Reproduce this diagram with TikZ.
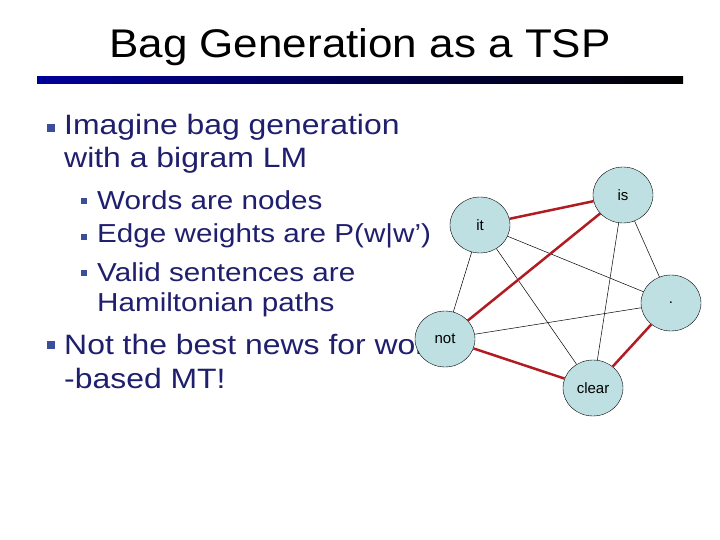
\documentclass[tikz,border=0pt]{standalone}
\usepackage{fontspec}
\setmainfont{Liberation Sans}
\usetikzlibrary{shapes.geometric}
\definecolor{navy}{HTML}{1F1F6E}
\definecolor{bul}{HTML}{3A4E9A}
\definecolor{nodefill}{HTML}{BFE0E3}
\definecolor{redline}{HTML}{B01C22}
\tikzset{
  word/.style={ellipse,draw=black,thin,fill=nodefill,minimum width=60pt,minimum height=56pt,inner sep=0pt,font=\fontsize{15}{17}\selectfont},
  lvlone/.style={anchor=west,text=navy,font=\fontsize{28}{30}\selectfont,inner sep=0pt,xscale=1.14,transform shape},
  lvltwo/.style={anchor=west,text=navy,font=\fontsize{26}{28}\selectfont,inner sep=0pt,xscale=1.14,transform shape},
  sqone/.style={fill=bul,minimum size=8pt,inner sep=0pt},
  sqtwo/.style={fill=bul,minimum size=6.5pt,inner sep=0pt},
  tour/.style={draw=redline,line width=2.5pt},
  thinedge/.style={draw=black,line width=0.5pt}
}
\begin{document}
\begin{tikzpicture}[x=1pt,y=-1pt]
\useasboundingbox (0,0) rectangle (720,540);
\fill[white] (0,0) rectangle (720,540);
\node[font=\fontsize{40}{42}\selectfont,inner sep=0pt,xscale=1.1,transform shape] (title) at (360,47) {Bag Generation as a TSP};
\shade[left color=blue!60!black,right color=black] (37,77) rectangle (683,84);
\node[sqone] (b1) at (51,128) {};
\node[lvlone] (t1) at (64,127) {Imagine bag generation};
\node[lvlone] (t1b) at (64,160) {with a bigram LM};
\node[sqtwo] (b2) at (84,201) {};
\node[lvltwo] (t2) at (97,200) {Words are nodes};
\node[sqtwo] (b3) at (84,237) {};
\node[lvltwo] (t3) at (97,236) {Edge weights are P(w|w’)};
\node[sqtwo] (b4) at (84,273) {};
\node[lvltwo] (t4) at (97,272) {Valid sentences are};
\node[lvltwo] (t4b) at (97,305) {Hamiltonian paths};
\node[sqone] (b5) at (51,345) {};
\node[lvlone] (t5) at (64,344) {Not the best news for words};
\node[lvlone] (t5b) at (64,378) {-based MT!};
\node[word] (it) at (480,225) {it};
\node[word] (is) at (623,195) {is};
\node[word] (dot) at (671,303) {.};
\node[word] (not) at (445,339) {not};
\node[word] (clear) at (593,388) {clear};
\path[thinedge] (it) -- (not);
\path[thinedge] (it) -- (clear);
\path[thinedge] (it) -- (dot);
\path[thinedge] (is) -- (clear);
\path[thinedge] (is) -- (dot);
\path[thinedge] (not) -- (dot);
\path[tour] (it) -- (is);
\path[tour] (is) -- (not);
\path[tour] (not) -- (clear);
\path[tour] (clear) -- (dot);
\end{tikzpicture}
\end{document}
